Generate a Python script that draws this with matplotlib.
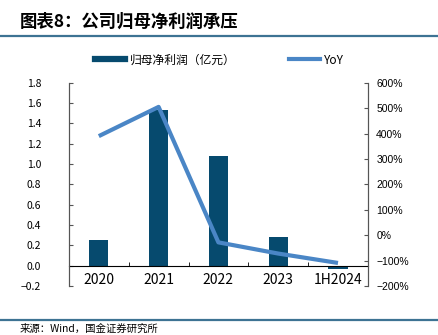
import numpy as np
import matplotlib.pyplot as plt
from matplotlib.lines import Line2D

plt.rcParams['font.family'] = ['Noto Sans CJK SC', 'DejaVu Sans']
plt.rcParams['axes.unicode_minus'] = True

categories = ['2020', '2021', '2022', '2023', '1H2024']
profit = [0.25, 1.53, 1.08, 0.28, -0.03]       # 归母净利润（亿元）
yoy = [390, 505, -28, -72, -109]                # YoY, %

bar_color = '#064a6e'
line_color = '#4a86c6'
rule_color = '#3d7393'

fig = plt.figure(figsize=(4.39, 3.35), dpi=100)
ax = fig.add_axes([0.157, 0.146, 0.681, 0.607])
ax2 = ax.twinx()

x = np.arange(len(categories))
ax.bar(x, profit, width=0.32, color=bar_color, zorder=2)
ax2.plot(x, yoy, color=line_color, lw=3, solid_capstyle='butt', zorder=3)

ax.set_xlim(-0.5, len(categories) - 0.5)
ax.set_ylim(-0.2, 1.8)
ax.set_yticks(np.arange(-0.2, 1.81, 0.2))
ax.set_yticklabels([f'{v:.1f}'.replace('-', '−') for v in np.arange(-0.2, 1.81, 0.2)],
                   fontsize=7.5, family=['Noto Sans CJK SC', 'DejaVu Sans'])
ax2.set_ylim(-200, 600)
ax2.set_yticks(np.arange(-200, 601, 100))
ax2.set_yticklabels([f'{v}%'.replace('-', '−') for v in range(-200, 601, 100)],
                    fontsize=7.5, family=['Liberation Sans', 'DejaVu Sans'])

# category labels centred, ticks between categories
ax.set_xticks(x)
ax.set_xticklabels(categories, fontsize=7.5, family=['Liberation Sans', 'DejaVu Sans'])
ax.set_xticks(np.arange(-0.5, len(categories)), minor=True)
ax.tick_params(axis='x', which='major', length=0, pad=5)
ax.tick_params(axis='x', which='minor', direction='in', length=3, color='black')
ax.tick_params(axis='y', direction='in', length=3, color='#555555', pad=20)
ax2.tick_params(axis='y', direction='in', length=3, color='#555555', pad=6)
for lab in ax.get_yticklabels():
    lab.set_horizontalalignment('right')

for a in (ax, ax2):
    a.spines['top'].set_visible(False)
ax.spines['bottom'].set_position(('data', 0))
ax.spines['bottom'].set_color('black')
ax2.spines['bottom'].set_visible(False)
for s in ('left', 'right'):
    ax.spines[s].set_color('#555555')
    ax2.spines[s].set_color('#555555')

handles = [Line2D([0], [0], color=bar_color, lw=4.5),
           Line2D([0], [0], color=line_color, lw=3)]
fig.legend(handles, ['归母净利润（亿元）', 'YoY'], ncol=2, frameon=False,
           loc='center', bbox_to_anchor=(0.5, 1 - 60 / 335), fontsize=8.5,
           handlelength=2.6, handletextpad=0.4, columnspacing=4.5)

# header and footer
fig.text(20 / 439, 1 - 22 / 335, '图表8：公司归母净利润承压', fontsize=12.5,
         fontweight='bold', fontstyle='italic', va='center', ha='left')
fig.add_artist(Line2D([0, 1], [1 - 36 / 335] * 2, color=rule_color, lw=1.6))
fig.add_artist(Line2D([0, 1], [1 - 320 / 335] * 2, color=rule_color, lw=1.6))
fig.text(20 / 439, 1 - 324 / 335, '来源：Wind，国金证券研究所', fontsize=7.5,
         va='top', ha='left')

fig.savefig('out.png', dpi=100)
